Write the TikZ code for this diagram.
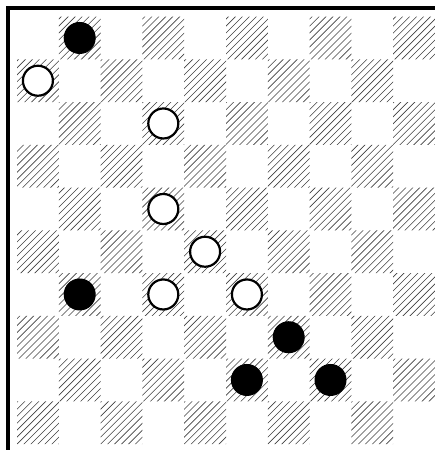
\documentclass[tikz,border=0pt]{standalone}
\usepackage{tikz}
\usetikzlibrary{positioning}

\tikzset{
  hatchline/.style={black!75, line width=0.6pt},
  whitepiece/.style={circle, draw, fill=white, line width=2.2pt, minimum size=30pt, inner sep=0pt},
  blackpiece/.style={circle, draw, fill=black, line width=1pt, minimum size=31pt, inner sep=0pt},
}
\newcommand{\cw}{41.8}
\newcommand{\chh}{42.75}

\begin{document}
\begin{tikzpicture}[x=1pt, y=-1pt]
            \useasboundingbox (0,0) rectangle (435,450);
            % dark squares
            \begin{scope}
              \path[clip] \foreach \r [evaluate=\r as \s using {int(mod(\r+1,2))}] in {0,...,9} {
                \foreach \k [evaluate=\k as \c using {int(2*\k+\s)}] in {0,...,4} {
                  (17+\c*\cw, 16.6+\r*\chh) rectangle ++(\cw,\chh)
                }};
              \foreach \i in {-66,...,64}
                \draw[hatchline] (7+\i*6.967, 454.1) -- ++(480,-480);
            \end{scope}
            % frame
            \draw[line width=4pt] (8,450) -- (8,8) -- (435,8);
            % pieces
            \node[blackpiece](b1) at (17+1.5*\cw, 16.6+0.5*\chh) {};
            \node[whitepiece](w1) at (17+0.5*\cw, 16.6+1.5*\chh) {};
            \node[whitepiece](w2) at (17+3.5*\cw, 16.6+2.5*\chh) {};
            \node[whitepiece](w3) at (17+3.5*\cw, 16.6+4.5*\chh) {};
            \node[whitepiece](w4) at (17+4.5*\cw, 16.6+5.5*\chh) {};
            \node[blackpiece](b2) at (17+1.5*\cw, 16.6+6.5*\chh) {};
            \node[whitepiece](w5) at (17+3.5*\cw, 16.6+6.5*\chh) {};
            \node[whitepiece](w6) at (17+5.5*\cw, 16.6+6.5*\chh) {};
            \node[blackpiece](b3) at (17+6.5*\cw, 16.6+7.5*\chh) {};
            \node[blackpiece](b4) at (17+5.5*\cw, 16.6+8.5*\chh) {};
            \node[blackpiece](b5) at (17+7.5*\cw, 16.6+8.5*\chh) {};
        \end{tikzpicture}
\end{document}
